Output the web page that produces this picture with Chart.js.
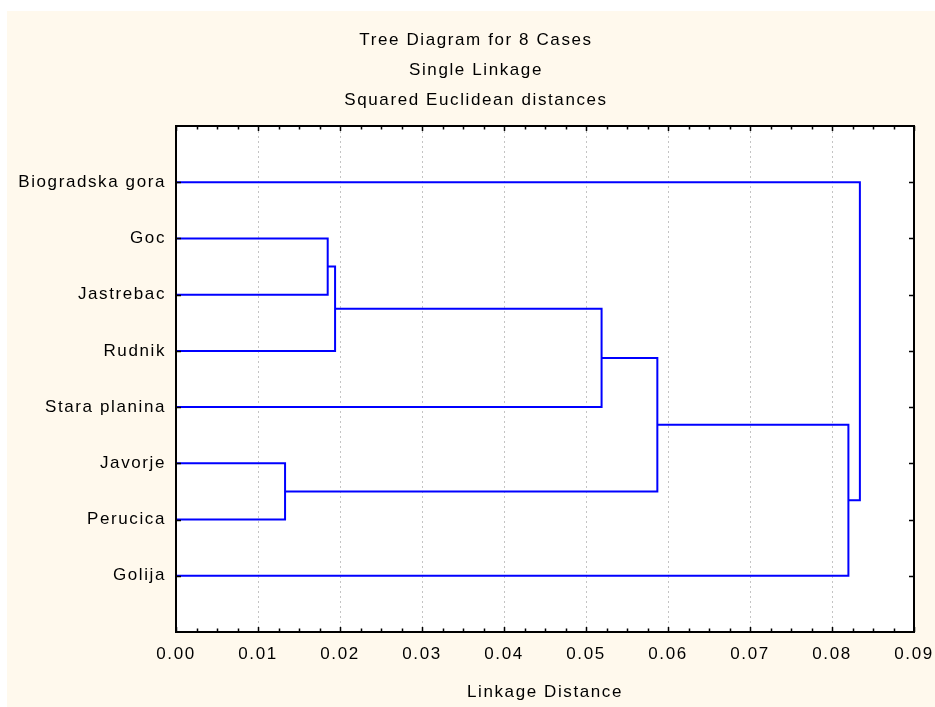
<!DOCTYPE html>
<html>
<head>
<meta charset="utf-8">
<title>Tree Diagram for 8 Cases</title>
<script src="https://cdn.jsdelivr.net/npm/chart.js@4/dist/chart.umd.min.js"></script>
<style>
    html, body { margin: 0; padding: 0; background: #fff; overflow: hidden; }
    canvas { display: block; }
</style>
</head>
<body>
<canvas id="treeChart" width="935" height="707"></canvas>
<script>
// Cases in the order they appear on the diagram (top to bottom)
const cases = ['Biogradska gora', 'Goc', 'Jastrebac', 'Rudnik', 'Stara planina', 'Javorje', 'Perucica', 'Golija'];

// Linkage steps: ids 0-7 are the cases, every step makes a new cluster id (8, 9, ...)
const mergeLeft  = [1, 8, 9, 5, 10, 12, 0];
const mergeRight = [2, 3, 4, 6, 11, 7, 13];
const mergeDist  = [0.0185, 0.0194, 0.0519, 0.0133, 0.0587, 0.0820, 0.0834];

// Axis ticks
const xTickValues = [0, 0.01, 0.02, 0.03, 0.04, 0.05, 0.06, 0.07, 0.08, 0.09];
const xTickLabels = ['0.00', '0.01', '0.02', '0.03', '0.04', '0.05', '0.06', '0.07', '0.08', '0.09'];

const FONT = "'Liberation Sans', Arial, sans-serif";
const CREAM = '#fff9ed';

// Build one elbow path per linkage step
function buildBranches() {
    const nodeY = cases.map((c, i) => i + 1);
    const nodeH = cases.map(() => 0);
    return mergeDist.map((d, k) => {
        const a = mergeLeft[k], b = mergeRight[k];
        nodeY.push((nodeY[a] + nodeY[b]) / 2);
        nodeH.push(d);
        return {
            data: [
                { x: nodeH[a], y: nodeY[a] },
                { x: d, y: nodeY[a] },
                { x: d, y: nodeY[b] },
                { x: nodeH[b], y: nodeY[b] }
            ],
            showLine: true,
            borderColor: '#0000ff',
            borderWidth: 2,
            pointRadius: 0,
            tension: 0,
            fill: false
        };
    });
}

// Page background, white plot area, frame and inward tick marks
const framePlugin = {
    id: 'frame',
    beforeDraw(chart) {
        const ctx = chart.ctx, a = chart.chartArea;
        ctx.save();
        ctx.fillStyle = '#fff';
        ctx.fillRect(0, 0, chart.width, chart.height);
        ctx.fillStyle = CREAM;
        ctx.fillRect(7, 11, chart.width - 7, chart.height - 11);
        ctx.fillStyle = '#fff';
        ctx.fillRect(a.left, a.top, a.right - a.left, a.bottom - a.top);
        ctx.restore();
        // the original lettering is loosely spaced
        ctx.letterSpacing = '1.6px';
    },
    afterDatasetsDraw(chart) {
        const ctx = chart.ctx, a = chart.chartArea;
        const xs = chart.scales.x, ys = chart.scales.y;
        ctx.save();
        ctx.strokeStyle = '#000';
        ctx.lineWidth = 1.5;
        ctx.beginPath();
        for (let i = 0; i <= 36; i++) {
            const px = Math.round(xs.getPixelForValue(i * 0.0025)) + 0.5;
            const len = i % 4 === 0 ? 5 : 3.5;
            ctx.moveTo(px, a.bottom); ctx.lineTo(px, a.bottom - len);
            ctx.moveTo(px, a.top); ctx.lineTo(px, a.top + len);
        }
        cases.forEach((c, i) => {
            const py = Math.round(ys.getPixelForValue(i + 1)) + 0.5;
            ctx.moveTo(a.left, py); ctx.lineTo(a.left + 5, py);
            ctx.moveTo(a.right, py); ctx.lineTo(a.right - 5, py);
        });
        ctx.stroke();
        ctx.lineWidth = 2;
        ctx.strokeRect(a.left, a.top, a.right - a.left, a.bottom - a.top);
        ctx.restore();
    }
};

new Chart(document.getElementById('treeChart'), {
    type: 'scatter',
    data: { datasets: buildBranches() },
    options: {
        responsive: false,
        animation: false,
        events: [],
        layout: { padding: { left: 17, top: 11, right: 0, bottom: 0 } },
        plugins: {
            legend: { display: false },
            tooltip: { enabled: false },
            title: {
                display: true,
                text: ['Tree Diagram for 8 Cases', 'Single Linkage', 'Squared Euclidean distances'],
                color: '#000',
                font: { family: FONT, size: 17, weight: 'normal', lineHeight: '30px' },
                padding: { top: 14, bottom: 11 }
            }
        },
        scales: {
            x: {
                type: 'linear',
                position: 'bottom',
                min: 0,
                max: 0.09,
                afterBuildTicks(scale) {
                    scale.ticks = xTickValues.map(v => ({ value: v }));
                },
                afterFit(scale) {
                    scale.height = 75;
                    scale.paddingLeft = 0;
                    scale.paddingRight = 0;
                },
                ticks: {
                    color: '#000',
                    font: { family: FONT, size: 17 },
                    padding: 12,
                    maxRotation: 0,
                    autoSkip: false,
                    callback: (v, i) => xTickLabels[i]
                },
                grid: { color: '#c4c4c4', lineWidth: 1, drawTicks: false },
                border: { display: false, dash: [2, 3] },
                title: {
                    display: true,
                    text: 'Linkage Distance',
                    color: '#000',
                    font: { family: FONT, size: 17 },
                    padding: { top: 0, bottom: 4 }
                }
            },
            y: {
                type: 'linear',
                position: 'left',
                min: 0,
                max: 9,
                reverse: true,
                afterFit(scale) { scale.width = 159; },
                ticks: {
                    stepSize: 1,
                    autoSkip: false,
                    color: '#000',
                    font: { family: FONT, size: 17 },
                    padding: 10,
                    callback: v => cases[v - 1] || ''
                },
                grid: { display: false, drawTicks: false },
                border: { display: false }
            },
            // empty strip on the right so the plot ends where the reference does
            yRight: {
                type: 'linear',
                position: 'right',
                min: 0,
                max: 9,
                afterFit(scale) { scale.width = 21; },
                ticks: { display: false },
                grid: { display: false, drawTicks: false },
                border: { display: false }
            }
        }
    },
    plugins: [framePlugin]
});
</script>
</body>
</html>
